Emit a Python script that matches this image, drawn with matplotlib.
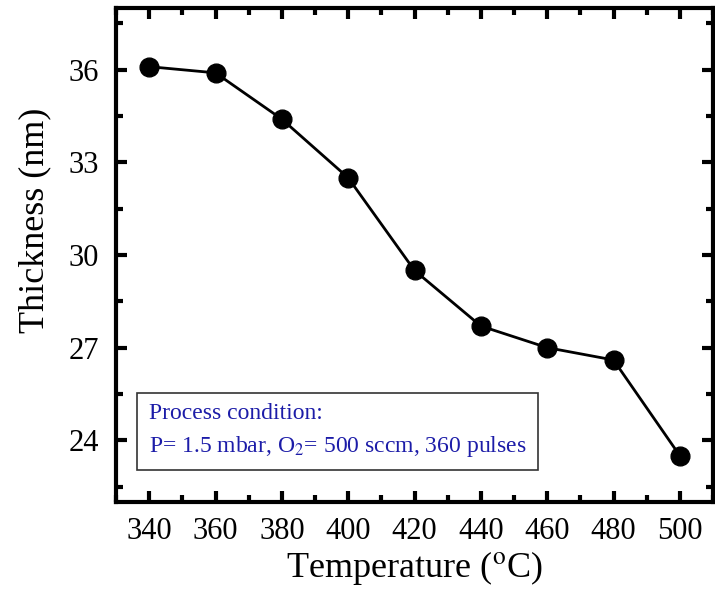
import numpy as np
import matplotlib.pyplot as plt
from matplotlib.ticker import MultipleLocator

# data
temperature = [340, 360, 380, 400, 420, 440, 460, 480, 500]
thickness = [36.1, 35.9, 34.4, 32.5, 29.5, 27.7, 27.0, 26.6, 23.5]

plt.rcParams['font.family'] = ['Liberation Serif', 'DejaVu Serif']
plt.rcParams['mathtext.fontset'] = 'stix'

fig = plt.figure(figsize=(7.15, 5.99), dpi=100)
ax = fig.add_axes([116/715, 97/599, 597/715, 494/599])

ax.plot(temperature, thickness, '-o', color='black', lw=2.0, ms=13.5)

ax.set_xlim(330, 510)
ax.set_ylim(22, 38)
ax.xaxis.set_major_locator(MultipleLocator(20))
ax.xaxis.set_minor_locator(MultipleLocator(10))
ax.yaxis.set_major_locator(MultipleLocator(3))
ax.yaxis.set_minor_locator(MultipleLocator(1.5))
ax.tick_params(which='both', direction='in', top=True, right=True, width=3)
ax.tick_params(which='major', length=8, labelsize=22)
ax.tick_params(axis='x', which='major', pad=11)
ax.tick_params(axis='y', which='major', pad=12)
ax.tick_params(which='minor', length=5)
for s in ax.spines.values():
    s.set_linewidth(3)

ax.set_xlabel(r'Temperature ($^{\rm o}$C)', fontsize=26, labelpad=2)
ax.set_ylabel('Thickness (nm)', fontsize=26)
ax.yaxis.set_label_coords(-0.108, 0.571)

ax.text(0.055, 0.088,
        'Process condition:\nP= 1.5 mbar, O$_2$= 500 sccm, 360 pulses',
        transform=ax.transAxes, fontsize=17, color='#1c1ca8',
        linespacing=1.55, va='bottom', ha='left',
        bbox=dict(boxstyle='square,pad=0.5', fc='white', ec='#333333', lw=1.2))

fig.savefig('out.png', dpi=100)
